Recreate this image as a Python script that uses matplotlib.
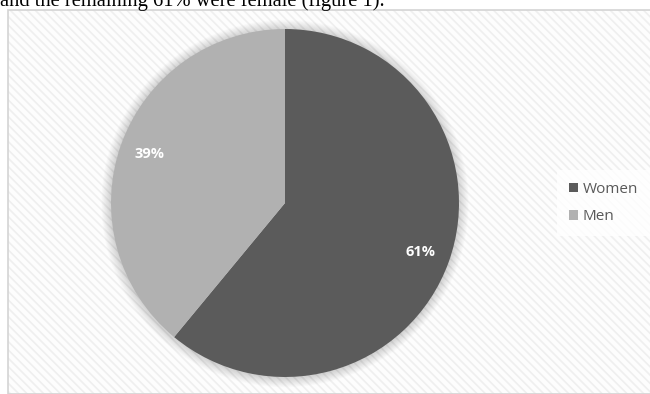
import matplotlib
matplotlib.use("Agg")
import matplotlib.pyplot as plt
from matplotlib.patches import Rectangle, Circle

labels = ["Women", "Men"]
values = [61, 39]
colors = ["#5b5b5b", "#b1b1b1"]
caption = "and the remaining 61% were female (figure 1)."

W, H = 650, 394
plt.rcParams['hatch.linewidth'] = 1.2
fig = plt.figure(figsize=(W / 100, H / 100), dpi=100)
fig.patch.set_facecolor("white")

# chart area background with hatch
x0, y0 = 8 / W, 0
wbg, hbg = 1 - x0, (H - 10) / H
fig.patches.append(Rectangle((x0, y0), wbg, hbg, transform=fig.transFigure,
                             facecolor="#fdfdfd", edgecolor="none", zorder=-2))
fig.patches.append(Rectangle((x0, y0), wbg, hbg, transform=fig.transFigure,
                             facecolor="none", edgecolor="#efefef", hatch="\\\\\\\\",
                             linewidth=0, zorder=-1))
fig.patches.append(Rectangle((x0, y0), wbg + 0.01, hbg, transform=fig.transFigure,
                             facecolor="none", edgecolor="#d4d4d4", linewidth=1.2, zorder=-1))

# caption (partially cut at top)
fig.text(0 / W, 1 - 6 / H, caption, family="Liberation Serif", fontsize=14.8,
         color="black", va="baseline", ha="left")

# pie axes: center (285, 203), radius 174
cx, cy, r = 285, 203, 174
ax = fig.add_axes([(cx - r) / W, (H - cy - r) / H, 2 * r / W, 2 * r / H])
ax.set_zorder(5)
ax.axis("off")
ax.patch.set_alpha(0)

wedges, texts, autotexts = ax.pie(values, colors=colors, startangle=90, counterclock=False,
                                  autopct="%d%%", pctdistance=0.83, radius=1,
                                  wedgeprops=dict(linewidth=0),
                                  textprops=dict(color="white", fontsize=10.5, fontweight="bold",
                                                 family="Open Sans"))
for w in wedges:
    w.set_zorder(2)
for t in autotexts:
    t.set_zorder(3)

# soft shadow (glow around the pie)
for i in range(14):
    rr = 1.0 + 0.004 * (i + 1)
    ax.add_patch(Circle((0, -0.003), rr, facecolor="black", alpha=0.012,
                        edgecolor="none", zorder=0, clip_on=False))

ax.set_xlim(-1, 1)
ax.set_ylim(-1, 1)

# legend
leg = fig.legend(wedges, labels, loc="center left", bbox_to_anchor=(549 / W, 1 - 203 / H),
                 frameon=True, fancybox=False, handlelength=0.6, handleheight=0.6,
                 handletextpad=0.3, labelspacing=0.8, borderpad=0.8,
                 prop=dict(family="Open Sans", size=11))
leg.get_frame().set_facecolor("white")
leg.get_frame().set_edgecolor("none")
leg.set_zorder(6)
for t in leg.get_texts():
    t.set_color("#595959")

fig.savefig("out.png", dpi=100, facecolor="white")
